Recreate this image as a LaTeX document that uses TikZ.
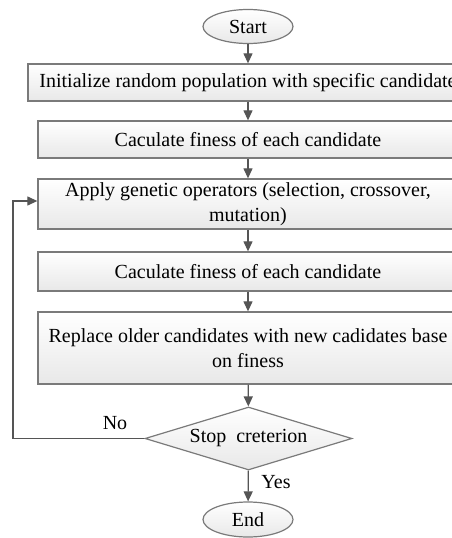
\documentclass[tikz,border=0pt]{standalone}
\usepackage{fontspec}
\setmainfont{Liberation Serif}
\usetikzlibrary{arrows.meta,shapes.geometric,calc}
\definecolor{edge}{HTML}{7A7A7A}
\definecolor{arr}{HTML}{555555}
\begin{document}
\begin{tikzpicture}[x=1pt,y=-1pt,
  box/.style={draw=edge,line width=1.3pt,top color=white,bottom color=black!9,
    rectangle,inner sep=0pt,align=center,font=\fontsize{20}{25}\selectfont},
  term/.style={draw=edge,line width=1.2pt,top color=white,bottom color=black!9,
    ellipse,inner sep=0pt,minimum width=90pt,minimum height=34pt,font=\fontsize{20}{24}\selectfont},
  dia/.style={draw=edge,line width=1.2pt,top color=white,bottom color=black!9,
    diamond,aspect=3.3,inner sep=0pt,minimum width=207pt,minimum height=63pt,font=\fontsize{20}{24}\selectfont},
  flow/.style={draw=arr,line width=1.2pt,-{Triangle[width=9pt,length=10pt]}},
  lbl/.style={font=\fontsize{20}{24}\selectfont}]
\useasboundingbox (0,0) rectangle (452,538);
\clip (0,0) rectangle (452,538);
\node[term] (start) at (248,26.5) {Start};
\node[box,minimum width=440pt,minimum height=37pt] (b1) at (248,82.5) {Initialize random population with specific candidate};
\node[box,minimum width=420pt,minimum height=37pt] (b2) at (248,139.5) {Caculate finess of each candidate};
\node[box,minimum width=420pt,minimum height=50pt] (b3) at (248,204) {Apply genetic operators (selection, crossover,\\ mutation)};
\node[box,minimum width=420pt,minimum height=39pt] (b4) at (248,271.5) {Caculate finess of each candidate};
\node[box,minimum width=420pt,minimum height=72pt] (b5) at (248,348) {Replace older candidates with new cadidates base\\ on finess};
\node[dia] (d) at (248.5,438.5) {Stop\ \ creterion};
\node[term,minimum height=35pt] (end) at (248,519.5) {End};
\coordinate (lb) at (13,438.5);
\coordinate (lt) at (13,201);
\draw[flow] (start) -- (b1);
\draw[flow] (b1) -- (b2);
\draw[flow] (b2) -- (b3);
\draw[flow] (b3) -- (b4);
\draw[flow] (b4) -- (b5);
\draw[flow] (b5) -- (d);
\draw[flow] (d) -- (end);
\draw[flow] (d.west) -- (lb) -- (lt) -- (lt -| b3.west);
\node[lbl] (no) at (115,423) {No};
\node[lbl] (yes) at (276,482) {Yes};
\end{tikzpicture}
\end{document}
